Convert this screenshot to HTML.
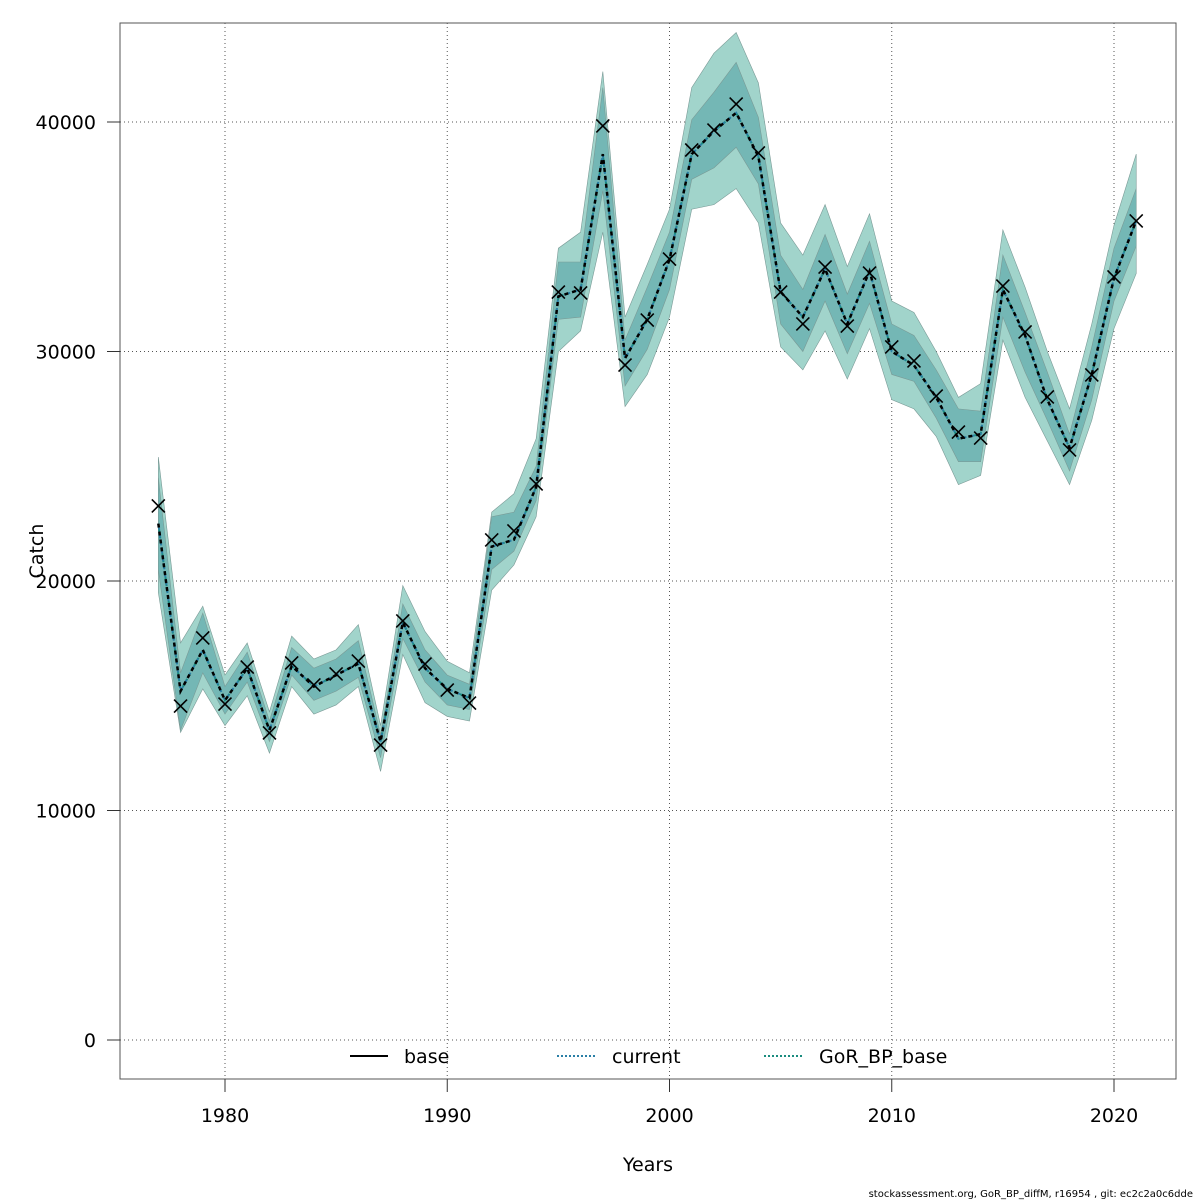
<!DOCTYPE html>
<html><head><meta charset="utf-8"><style>
body{margin:0;background:#fff;}
svg{display:block;font-family:"DejaVu Sans","Liberation Sans",sans-serif;}
</style></head><body>
<svg id="chart" width="1200" height="1200">
<rect x="120" y="23" width="1056" height="1056" fill="#fff" stroke="#555" stroke-width="1"/>
<g id="grid"></g>
<g id="bands"></g>
<g id="lines"></g>
<g id="points"></g>
<g id="axes"></g>
<text x="648" y="1171" font-size="19" text-anchor="middle">Years</text>
<text x="43" y="551" font-size="19" text-anchor="middle" transform="rotate(-90 43 551)">Catch</text>
<g>
<g><line x1="350" y1="1056" x2="388" y2="1056" stroke="#000" stroke-width="2"/><text x="404" y="1063" font-size="19">base</text></g>
<g><line x1="557" y1="1056" x2="595" y2="1056" stroke="#2a7fa6" stroke-width="2" stroke-dasharray="2,2"/><text x="612" y="1063" font-size="19">current</text></g>
<g><line x1="764" y1="1056" x2="802" y2="1056" stroke="#1a8c7f" stroke-width="2" stroke-dasharray="2,2"/><text x="819" y="1063" font-size="19">GoR_BP_base</text></g>
</g>
<text x="1193" y="1197" font-size="10" text-anchor="end">stockassessment.org, GoR_BP_diffM, r16954 , git: ec2c2a0c6dde</text>
</svg>
<script>
const years=[1977,1978,1979,1980,1981,1982,1983,1984,1985,1986,1987,1988,1989,1990,1991,1992,1993,1994,1995,1996,1997,1998,1999,2000,2001,2002,2003,2004,2005,2006,2007,2008,2009,2010,2011,2012,2013,2014,2015,2016,2017,2018,2019,2020,2021];
const observed=[23.27,14.55,17.52,14.64,16.25,13.38,16.43,15.47,15.95,16.51,12.85,18.26,16.38,15.25,14.68,21.79,22.18,24.23,32.59,32.55,39.83,29.41,31.37,34.03,38.78,39.65,40.78,38.65,32.59,31.2,33.68,31.11,33.42,30.2,29.59,28.06,26.49,26.23,32.85,30.85,28.02,25.71,28.98,33.25,35.69];
const estimate=[22.5,15.2,17.0,14.8,16.2,13.5,16.3,15.4,15.9,16.4,13.0,18.2,16.2,15.3,14.9,21.5,21.8,24.1,32.4,32.7,38.6,29.7,31.4,34.0,38.6,39.6,40.4,38.5,32.6,31.5,33.6,31.2,33.5,30.0,29.4,28.0,26.2,26.4,32.7,30.7,27.9,25.8,29.0,33.2,35.7];
const outerHi=[25.4,17.3,18.9,15.9,17.3,14.3,17.6,16.6,17.0,18.1,13.7,19.8,17.8,16.5,16.0,23.0,23.8,26.2,34.5,35.2,42.2,31.5,33.8,36.2,41.5,43.0,43.9,41.7,35.6,34.2,36.4,33.7,36.0,32.2,31.7,30.0,28.0,28.6,35.3,32.8,30.0,27.5,31.2,35.5,38.6];
const outerLo=[19.5,13.4,15.3,13.7,15.0,12.5,15.4,14.2,14.6,15.4,11.7,16.8,14.7,14.1,13.9,19.6,20.7,22.8,30.0,30.9,35.2,27.6,29.0,31.5,36.2,36.4,37.1,35.6,30.2,29.2,30.9,28.8,31.0,27.9,27.5,26.3,24.2,24.6,30.5,28.0,26.1,24.2,27.0,31.0,33.4];
const innerHi=[24.5,16.0,18.6,15.4,16.9,13.9,17.1,16.2,16.6,17.4,13.3,19.0,17.0,15.9,15.5,22.8,23.0,25.0,33.9,33.9,41.5,30.5,32.8,35.2,40.1,41.3,42.6,40.2,34.2,32.7,35.1,32.5,34.8,31.2,30.7,29.2,27.5,27.4,34.2,31.7,29.1,26.4,30.2,34.5,37.1];
const innerLo=[20.5,13.5,16.0,14.2,15.6,13.0,15.9,14.8,15.2,15.8,12.3,17.5,15.6,14.6,14.4,20.5,21.3,23.5,31.4,31.5,37.0,28.5,30.1,32.7,37.5,38.0,38.9,37.3,31.2,30.0,32.2,29.9,32.1,29.0,28.7,27.1,25.2,25.2,31.5,29.1,27.0,24.8,27.9,32.2,34.6];
const xTicks=[1980,1990,2000,2010,2020];
const yTicks=[0,10000,20000,30000,40000];

const NS="http://www.w3.org/2000/svg";
const X=y=>225+(y-1980)*(1114-225)/40;
const Y=v=>1040-v*(1040-122)/40; // v in thousands
function mk(tag,attrs,parent){const e=document.createElementNS(NS,tag);for(const k in attrs)e.setAttribute(k,attrs[k]);parent.appendChild(e);return e;}
const grid=document.getElementById('grid'),axes=document.getElementById('axes');
xTicks.forEach(t=>{
 const g=mk('line',{x1:X(t),x2:X(t),y1:23,y2:1079,stroke:'#555','stroke-dasharray':'1,3'},grid);
 
 
 const tk=mk('line',{x1:X(t),x2:X(t),y1:1079,y2:1092,stroke:'#333'},axes);
 
 
 const tx=mk('text',{x:X(t),y:1122,'font-size':19,'text-anchor':'middle'},axes);tx.textContent=t;
 
 
});
yTicks.forEach(t=>{
 const g=mk('line',{x1:120,x2:1176,y1:Y(t/1000),y2:Y(t/1000),stroke:'#555','stroke-dasharray':'1,3'},grid);
 
 
 const tk=mk('line',{x1:107,x2:120,y1:Y(t/1000),y2:Y(t/1000),stroke:'#333'},axes);
 
 
 const tx=mk('text',{x:96,y:Y(t/1000)+7,'font-size':19,'text-anchor':'end'},axes);tx.textContent=t;
 
 
});
function band(hi,lo,fill,name){
 let d='M'+years.map((y,i)=>X(y)+','+Y(hi[i])).join('L');
 d+='L'+years.map((y,i)=>X(y)+','+Y(lo[i])).reverse().join('L')+'Z';
 const p=mk('path',{d:d,fill:fill,stroke:'#7a9a96','stroke-width':0.6},document.getElementById('bands'));
 
 
}
band(outerHi,outerLo,'#a1d4cb','outer-band');
band(innerHi,innerLo,'#74b7b5','inner-band');
const L=document.getElementById('lines');
function line(vals,color,dash,w,name){
 const p=mk('polyline',{points:years.map((y,i)=>X(y)+','+Y(vals[i])).join(' '),fill:'none',stroke:color,'stroke-width':w,'stroke-dasharray':dash},L);
 
 
}
line(estimate,'#1a8c7f','3,3',2,'gor-bp-base-line');
line(estimate,'#2a7fa6','2,2',2,'current-line');
line(estimate,'#000','4,4',2.5,'base-line');
const P=document.getElementById('points');
years.forEach((y,i)=>{
 const cx=X(y),cy=Y(observed[i]),s=6.5;
 const g=mk('path',{d:`M${cx-s},${cy-s}L${cx+s},${cy+s}M${cx-s},${cy+s}L${cx+s},${cy-s}`,stroke:'#000','stroke-width':1.6},P);
 
 
});
</script>
</body></html>
